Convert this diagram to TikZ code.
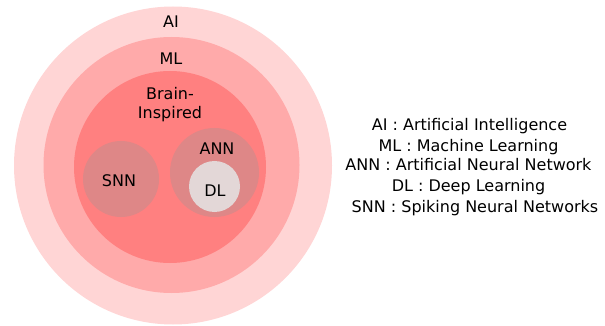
\documentclass[tikz,border=0pt]{standalone}
\usepackage{fontspec}
\setmainfont{DejaVu Sans}
\definecolor{cAI}{HTML}{FFD5D5}
\definecolor{cML}{HTML}{FFAAAA}
\definecolor{cBI}{HTML}{FF8080}
\definecolor{cNN}{HTML}{DE8787}
\definecolor{cDL}{HTML}{E3D7D7}
\begin{document}
\begin{tikzpicture}[x=1pt,y=-1pt,
  disc/.style={circle,inner sep=0pt,minimum size=#1},
  lab/.style={font=\fontsize{16}{19}\selectfont,inner sep=0pt,anchor=base},
  leg/.style={font=\fontsize{16}{19}\selectfont,inner sep=0pt,anchor=base}]
\useasboundingbox (0,0) rectangle (605,326);
\node[disc=318pt,fill=cAI] (ai) at (173,165.5) {};
\node[disc=256pt,fill=cML] (ml) at (171.5,165) {};
\node[disc=192pt,fill=cBI] (bi) at (170,167) {};
\node[disc=76pt,fill=cNN] (snn) at (121,179) {};
\node[disc=89pt,fill=cNN] (ann) at (214.5,172.5) {};
\node[disc=51pt,fill=cDL] (dl) at (214.5,186.5) {};
\node[lab] (tai) at (171,28) {AI};
\node[lab] (tml) at (171,65) {ML};
\node[lab] (tb1) at (170,100) {Brain-};
\node[lab] (tb2) at (170,119) {Inspired};
\node[lab] (tann) at (217,154) {ANN};
\node[lab] (tsnn) at (119,186) {SNN};
\node[lab] (tdl) at (215,196) {DL};
\node[leg] (l1) at (469.5,131) {AI : Artificial Intelligence};
\node[leg] (l2) at (468.5,151) {ML : Machine Learning};
\node[leg] (l3) at (468.5,171) {ANN : Artificial Neural Network};
\node[leg] (l4) at (468.5,191) {DL : Deep Learning};
\node[leg] (l5) at (475,212) {SNN : Spiking Neural Networks};
\end{tikzpicture}
\end{document}
